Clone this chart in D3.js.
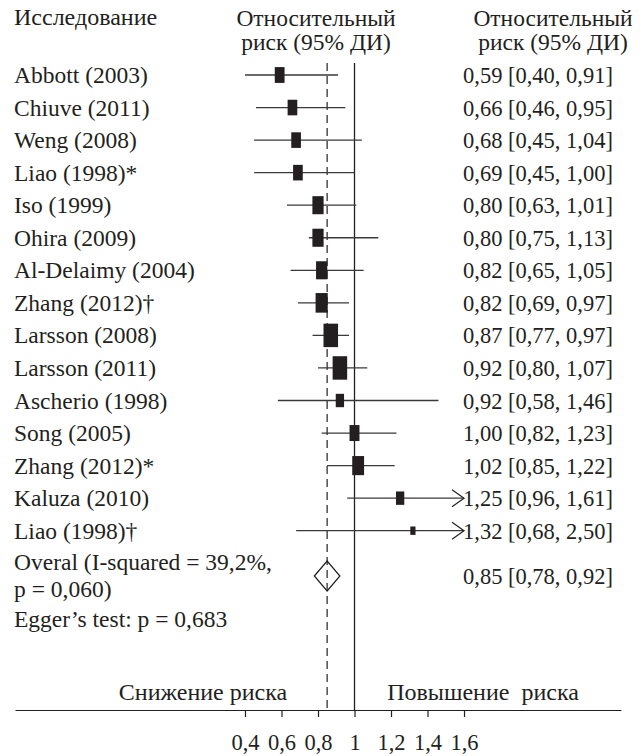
<!DOCTYPE html>
<html>
<head>
<meta charset="utf-8">
<script src="https://cdn.jsdelivr.net/npm/d3@7"></script>
<style>
body{margin:0;background:#fff;}
text{font-family:"Liberation Serif","DejaVu Serif",serif;font-size:22.5px;fill:#231f20;}
text.lab{font-size:23.5px;}
text.cyr{font-size:24px;}
</style>
</head>
<body>
<div id="chart"></div>
<script>
// study data
var studies=["Abbott (2003)","Chiuve (2011)","Weng (2008)","Liao (1998)*","Iso (1999)","Ohira (2009)",
  "Al-Delaimy (2004)","Zhang (2012)†","Larsson (2008)","Larsson (2011)","Ascherio (1998)","Song (2005)",
  "Zhang (2012)*","Kaluza (2010)","Liao (1998)†"];
var rr=[0.59,0.66,0.68,0.69,0.80,0.80,0.82,0.82,0.87,0.92,0.92,1.00,1.02,1.25,1.32];
var lower=[0.40,0.46,0.45,0.45,0.63,0.75,0.65,0.69,0.77,0.80,0.58,0.82,0.85,0.96,0.68];
var upper=[0.91,0.95,1.04,1.00,1.01,1.13,1.05,0.97,0.97,1.07,1.46,1.23,1.22,1.61,2.50];
var weights=[3.9,3.8,3.8,3.8,5.1,5.1,5.1,6.0,8.6,8.6,2.8,4.0,5.7,2.8,1.1];
var overall=[0.85,0.78,0.92];
var overallLabel=["Overal (I-squared = 39,2%,","p = 0,060)"];
var eggerLabel="Egger’s test: p = 0,683";
var ticks=[0.4,0.6,0.8,1,1.2,1.4,1.6];
var tickLabels=["0,4","0,6","0,8","1","1,2","1,4","1,6"];

var width=641,height=756;
var svg=d3.select("#chart").append("svg")
    .attr("width",width)
    .attr("height",height);

var x=d3.scaleLinear().domain([-0.86,2.46]).range([15,621]);
var y=d3.scalePoint().domain(d3.range(studies.length)).range([75,530.7]);
var axisY=710,topY=63,maxX=d3.max(ticks);

var loc=d3.formatLocale({decimal:",",thousands:" ",grouping:[3],currency:["",""]});
var fmt=loc.format(".2f");
function ciText(a,b,c){return fmt(a)+" ["+fmt(b)+", "+fmt(c)+"]";}

// headers
svg.append("text").attr("class","cyr").attr("x",14).attr("y",25).text("Исследование");
[316,553].forEach(function(cx){
  svg.append("text").attr("class","lab").attr("x",cx).attr("y",25.5).attr("text-anchor","middle").text("Относительный");
  svg.append("text").attr("class","lab").attr("x",cx).attr("y",50).attr("text-anchor","middle").text("риск (95% ДИ)");
});

// reference lines
svg.append("line")
  .attr("x1",x(overall[0])).attr("x2",x(overall[0]))
  .attr("y1",topY).attr("y2",axisY)
  .attr("stroke","#231f20").attr("stroke-width",1.2)
  .attr("stroke-dasharray","8,5");
svg.append("line")
  .attr("x1",x(1)).attr("x2",x(1))
  .attr("y1",topY).attr("y2",axisY)
  .attr("stroke","#231f20").attr("stroke-width",1.3);

// rows
var rows=svg.append("g").selectAll("g")
  .data(d3.range(studies.length))
  .enter().append("g")
    .attr("transform",function(i){return "translate(0,"+y(i)+")";});

rows.append("text")
  .attr("class","lab")
  .attr("x",14).attr("y",8)
  .text(function(i){return studies[i];});

rows.append("text")
  .attr("x",463).attr("y",8)
  .text(function(i){return ciText(rr[i],lower[i],upper[i]);});

rows.append("line")
  .attr("x1",function(i){return x(lower[i]);})
  .attr("x2",function(i){return x(Math.min(upper[i],maxX));})
  .attr("stroke","#3a3a3a").attr("stroke-width",1.3);

rows.filter(function(i){return upper[i]>maxX;})
  .append("path")
  .attr("d","M"+(x(maxX)-12)+",-8.5L"+x(maxX)+",0L"+(x(maxX)-12)+",8.5")
  .attr("fill","none").attr("stroke","#231f20").attr("stroke-width",1.2);

rows.append("rect")
  .attr("x",function(i){return x(rr[i])-0.31*8*Math.sqrt(weights[i]);})
  .attr("y",function(i){return -4*Math.sqrt(weights[i]);})
  .attr("width",function(i){return 0.62*8*Math.sqrt(weights[i]);})
  .attr("height",function(i){return 8*Math.sqrt(weights[i]);})
  .attr("fill","#231f20");

// overall
var oy=576;
svg.append("path")
  .attr("d","M"+x(overall[1])+","+oy+"L"+x(overall[0])+","+(oy-15)+"L"+x(overall[2])+","+oy+"L"+x(overall[0])+","+(oy+15)+"Z")
  .attr("fill","none").attr("stroke","#231f20").attr("stroke-width",1.2);
svg.append("text").attr("class","lab").attr("x",14).attr("y",570).text(overallLabel[0]);
svg.append("text").attr("class","lab").attr("x",14).attr("y",597).text(overallLabel[1]);
svg.append("text").attr("x",463).attr("y",oy+8).text(ciText(overall[0],overall[1],overall[2]));
svg.append("text").attr("class","lab").attr("x",14).attr("y",627).text(eggerLabel);

// direction labels
svg.append("text").attr("class","cyr").attr("x",203).attr("y",700).attr("text-anchor","middle").text("Снижение риска");
svg.append("text").attr("class","cyr").attr("x",483).attr("y",700).attr("text-anchor","middle")
  .style("white-space","pre").text("Повышение  риска");

// axis
var axis=svg.append("g")
  .attr("transform","translate(0,"+axisY+")")
  .call(d3.axisBottom(x).tickValues(ticks)
    .tickFormat(function(d,i){return tickLabels[i];})
    .tickSizeInner(7).tickSizeOuter(0).tickPadding(17));
axis.select(".domain").attr("stroke","#231f20").attr("stroke-width",1.2);
axis.selectAll(".tick line").attr("stroke","#231f20").attr("stroke-width",1.2);
</script>
</body>
</html>
